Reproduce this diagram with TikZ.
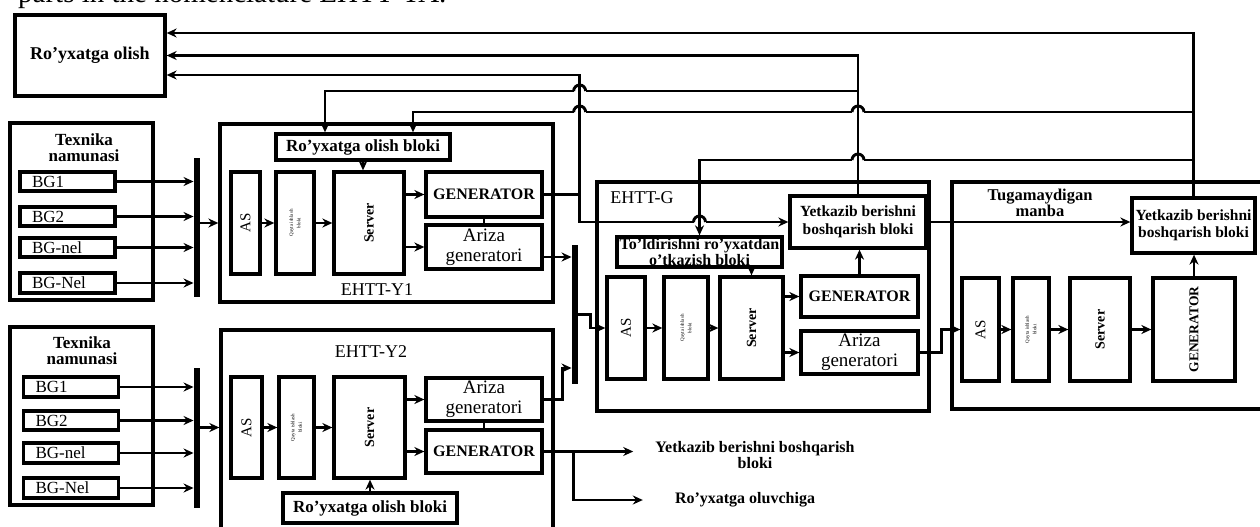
\documentclass[tikz,border=0pt]{standalone}
\usepackage{fontspec}
\setmainfont{Liberation Serif}
\usepackage{tikz}
\usetikzlibrary{arrows.meta,positioning,calc}

\newcommand{\fs}[2]{\fontsize{#1}{#2}\selectfont}
\newcommand{\hop}[1]{%
  \fill[white] ($(#1)+(-6,-2)$) rectangle ($(#1)+(6,2)$);
  \draw[ln] ($(#1)+(0,-7)$) -- ($(#1)+(0,7)$);
  \draw[ln] ($(#1)+(-6,0)$) arc[start angle=180,end angle=0,radius=6pt];}

\begin{document}
\begin{tikzpicture}[x=1pt,y=-1pt,
  blk/.style={draw,line width=3.3pt,inner sep=0pt,align=center},
  bgbox/.style={blk,minimum width=95pt,minimum height=19pt,text width=71pt,align=left,font=\fs{17}{17}},
  vbox/.style={blk,minimum height=102pt},
  bar/.style={fill,inner sep=0pt,minimum width=6.5pt},
  lbl/.style={inner sep=0pt,align=center},
  ln/.style={line width=2.9pt},
  arr/.style={ln,-{Stealth[length=10pt,width=9pt]}}
]
\useasboundingbox (0,0) rectangle (1260,527);
\node[anchor=base west,inner sep=0pt,font=\fs{29}{29}] (toptxt) at (18,3) {parts in the nomenclature EHTT-YA.};

\node[blk,minimum width=150pt,minimum height=81pt,font=\bfseries\fs{18}{18}] (ro) at (90,55.5) {Ro'yxatga olish};

\node[blk,minimum width=143pt,minimum height=177pt] (tx1) at (81.5,211.5) {};
\node[lbl,font=\bfseries\fs{17}{16}] (tx1t) at (84,148) {Texnika\\namunasi};
\node[bgbox] (b11) at (67.5,181.5) {BG1};
\node[bgbox] (b12) at (67.5,216.5) {BG2};
\node[bgbox] (b13) at (67.5,247.5) {BG-nel};
\node[bgbox,minimum height=20pt] (b14) at (67.5,283) {BG-Nel};
\node[bar,minimum height=139pt] (bar1) at (197,227.5) {};

\node[blk,minimum width=143pt,minimum height=178pt] (tx2) at (81.5,416) {};
\node[lbl,font=\bfseries\fs{17}{16}] (tx2t) at (82,351) {Texnika\\namunasi};
\node[bgbox,minimum height=20pt] (b21) at (71,387) {BG1};
\node[bgbox] (b22) at (71,420.5) {BG2};
\node[bgbox,minimum height=20pt] (b23) at (71,453) {BG-nel};
\node[bgbox,minimum height=20pt] (b24) at (71,488) {BG-Nel};
\node[bar,minimum height=140pt] (bar3) at (197,438) {};

\node[blk,minimum width=333pt,minimum height=178pt] (e1) at (386.5,213) {};
\node[lbl,font=\fs{18}{18}] (e1t) at (377,290) {EHTT-Y1};
\node[blk,minimum width=174pt,minimum height=26pt,font=\bfseries\fs{17}{17}] (rb1) at (363,147) {Ro'yxatga olish bloki};
\node[vbox,minimum width=29pt,font=\fs{15}{15}] (as1) at (245.5,223) {\rotatebox{90}{AS}};
\node[vbox,minimum width=38pt,font=\fs{5}{5}] (q1) at (295,223) {\rotatebox{90}{\shortstack{Qayta ishlash\\bloki}}};
\node[vbox,minimum width=70pt,font=\bfseries\fs{14}{14}] (sv1) at (369,223) {\rotatebox{90}{Server}};
\node[blk,minimum width=116pt,minimum height=45pt,font=\bfseries\fs{16}{16}] (gen1) at (484,194.5) {GENERATOR};
\node[blk,minimum width=116pt,minimum height=44pt,font=\fs{19}{20}] (ar1) at (484,247) {Ariza\\generatori};

\node[blk,minimum width=332pt,minimum height=215pt] (e2) at (387,437.5) {};
\node[lbl,font=\fs{18}{18}] (e2t) at (371,352) {EHTT-Y2};
\node[vbox,minimum width=31pt,minimum height=101pt,font=\fs{15}{15}] (as2) at (246.5,427.5) {\rotatebox{90}{AS}};
\node[vbox,minimum width=35pt,minimum height=101pt,font=\fs{5}{5}] (q2) at (296.5,427.5) {\rotatebox{90}{\shortstack{Qayta ishlash\\bloki}}};
\node[vbox,minimum width=71pt,minimum height=101pt,font=\bfseries\fs{14}{14}] (sv2) at (369.5,427.5) {\rotatebox{90}{Server}};
\node[blk,minimum width=116pt,minimum height=43pt,font=\fs{19}{20}] (ar2) at (484,399.5) {Ariza\\generatori};
\node[blk,minimum width=116pt,minimum height=43pt,font=\bfseries\fs{16}{16}] (gen2) at (484,451.5) {GENERATOR};
\node[blk,minimum width=174pt,minimum height=30pt,font=\bfseries\fs{17}{17}] (rb2) at (370,508) {Ro'yxatga olish bloki};
\node[lbl,font=\bfseries\fs{16}{16}] (outy) at (755,455) {Yetkazib berishni boshqarish\\bloki};
\node[lbl,font=\bfseries\fs{16}{16}] (outr) at (745,500) {Ro'yxatga oluvchiga};

\node[blk,minimum width=332pt,minimum height=229pt] (eg) at (763,296.5) {};
\node[lbl,font=\fs{18}{18}] (egt) at (642,198) {EHTT-G};
\node[blk,minimum width=136pt,minimum height=52pt,font=\bfseries\fs{15.5}{17.5}] (ytkg) at (858,222) {Yetkazib berishni\\boshqarish bloki};
\node[blk,minimum width=165pt,minimum height=30pt,font=\bfseries\fs{16}{14}] (tol) at (699.5,252) {To'ldirishni ro'yxatdan\\o'tkazish bloki};
\node[vbox,minimum width=38pt,font=\fs{15}{15}] (asg) at (626,328) {\rotatebox{90}{AS}};
\node[vbox,minimum width=44pt,font=\fs{5}{5}] (qg) at (686,328) {\rotatebox{90}{\shortstack{Qayta ishlash\\bloki}}};
\node[vbox,minimum width=63pt,font=\bfseries\fs{14}{14}] (svg) at (751.5,328) {\rotatebox{90}{Server}};
\node[blk,minimum width=117pt,minimum height=41pt,font=\bfseries\fs{16}{16}] (geng) at (859.5,296.5) {GENERATOR};
\node[blk,minimum width=117pt,minimum height=43pt,font=\fs{19}{20}] (arg) at (859.5,352.5) {Ariza\\generatori};

\node[blk,minimum width=340pt,minimum height=227pt] (tm) at (1122,295.5) {};
\node[lbl,font=\bfseries\fs{16.5}{16}] (tmt) at (1040,203) {Tugamaydigan\\manba};
\node[blk,minimum width=123pt,minimum height=55pt,font=\bfseries\fs{15.5}{17.5}] (ytkt) at (1193.5,225.5) {Yetkazib berishni\\boshqarish bloki};
\node[vbox,minimum width=37pt,minimum height=103pt,font=\fs{15}{15}] (ast) at (980.5,329.5) {\rotatebox{90}{AS}};
\node[vbox,minimum width=36pt,minimum height=103pt,font=\fs{5}{5}] (qt) at (1031,329.5) {\rotatebox{90}{\shortstack{Qayta ishlash\\bloki}}};
\node[vbox,minimum width=60pt,minimum height=103pt,font=\bfseries\fs{14}{14}] (svt) at (1100,329.5) {\rotatebox{90}{Server}};
\node[vbox,minimum width=82pt,minimum height=103pt,font=\bfseries\fs{13.5}{13.5}] (gent) at (1194,329.5) {\rotatebox{90}{GENERATOR}};

\node[bar,minimum height=139pt] (bar2) at (575,314.5) {};

\draw[arr] (b11.east) -- (b11.east -| bar1.west);
\draw[arr] (b12.east) -- (b12.east -| bar1.west);
\draw[arr] (b13.east) -- (b13.east -| bar1.west);
\draw[arr] (b14.east) -- (b14.east -| bar1.west);
\draw[arr] (as1 -| bar1.east) -- (as1 -| e1.west);
\draw[arr] (as1.east) -- (q1.west);
\draw[arr] (q1.east) -- (sv1.west);
\draw[arr] (sv1.east |- gen1) -- (gen1.west);
\draw[arr] (sv1.east |- ar1) -- (ar1.west);
\draw[ln] (gen1.south) -- (ar1.north);
\draw[arr] (rb1.south) -- (rb1.south |- sv1.north);
\draw[arr] ([yshift=-10pt]ar1.east) -- ([yshift=-10pt]ar1.east -| bar2.west);

\draw[arr] (b21.east) -- (b21.east -| bar3.west);
\draw[arr] (b22.east) -- (b22.east -| bar3.west);
\draw[arr] (b23.east) -- (b23.east -| bar3.west);
\draw[arr] (b24.east) -- (b24.east -| bar3.west);
\draw[arr] (as2 -| bar3.east) -- (as2 -| e2.west);
\draw[arr] (as2.east) -- (q2.west);
\draw[arr] (q2.east) -- (sv2.west);
\draw[arr] (sv2.east |- ar2) -- (ar2.west);
\draw[arr] (sv2.east |- gen2) -- (gen2.west);
\draw[ln] (ar2.south) -- (gen2.north);
\draw[arr] (rb2.north) -- (rb2.north |- sv2.south);
\draw[arr] (ar2.east) -- ++(19,0) |- ([yshift=-53.5pt]bar2.west);
\draw[arr,shorten >=22pt] (gen2.east) -- (gen2.east -| outy.west);
\draw[arr,shorten >=32pt] ([xshift=30pt]gen2.east) |- (outr.west);

\draw[arr] (bar2.east) -- ++(12,0) |- (asg.west);
\draw[arr] (asg.east) -- (qg.west);
\draw[arr] (qg.east) -- (svg.west);
\draw[arr] (svg.east |- geng) -- (geng.west);
\draw[arr] (svg.east |- arg) -- (arg.west);
\draw[arr] (svg.north |- tol.south) -- (svg.north);
\draw[arr] (geng.north) -- (geng.north |- ytkg.south);
\draw[arr] (ytkg.east) -- (ytkg.east -| ytkt.west);
\draw[arr] (arg.east) -- ++(22,0) |- (ast.west);

\draw[arr] (ast.east) -- (qt.west);
\draw[arr] (qt.east) -- (svt.west);
\draw[arr] (svt.east) -- (gent.west);
\draw[arr] (gent.north) -- (gent.north |- ytkt.south);

\coordinate (r4) at (0,91);
\coordinate (r5) at (0,112);
\coordinate (r6) at (0,160);
\coordinate (j1) at ($(gen1.east)+(36,0)$);
\draw[ln] (gen1.east) -- (j1);
\draw[arr] (j1) |- ([yshift=-19.5pt]ro.east);
\draw[arr] (j1) |- (ytkg.west);
\draw[arr] (ytkt.north) |- ([yshift=22.5pt]ro.east);
\draw[arr] (ytkg.north) |- (ro.east);
\draw[arr] (ytkg.north |- r4) -| ([xshift=-38pt]rb1.north);
\draw[arr] (ytkt.north |- r5) -| ([xshift=50pt]rb1.north);
\draw[arr] (ytkt.north |- r6) -| (tol.north);
\hop{j1 |- r4}
\hop{j1 |- r5}
\hop{ytkg.north |- r5}
\hop{ytkg.north |- r6}
\hop{tol.north |- ytkg.west}
\end{tikzpicture}
\end{document}
